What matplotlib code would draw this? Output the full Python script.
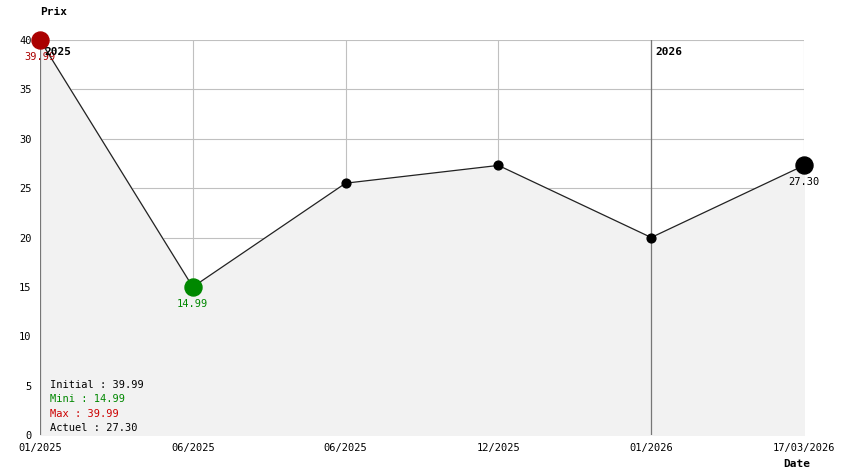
import matplotlib
matplotlib.use("Agg")
import matplotlib.pyplot as plt

labels = ["01/2025", "06/2025", "06/2025", "12/2025", "01/2026", "17/03/2026"]
prices = [39.99, 14.99, 25.5, 27.3, 20.0, 27.30]
year_marks = [(0, "2025"), (4, "2026")]

mono = "DejaVu Sans Mono"
fig = plt.figure(figsize=(8.44, 4.74), dpi=100)
ax = fig.add_axes([40 / 844, 39 / 474, 764 / 844, 395 / 474])
x = list(range(len(prices)))

ax.fill_between(x, prices, 0, color="#f2f2f2", zorder=1)
ax.plot(x, prices, color="#222222", lw=0.9, zorder=3)
ax.scatter(x[1:-1], prices[1:-1], s=40, color="black", zorder=4, clip_on=False)
ax.scatter([0], [prices[0]], s=150, color="#aa0000", zorder=5, clip_on=False)
ax.scatter([1], [prices[1]], s=150, color="#008800", zorder=5, clip_on=False)
ax.scatter([x[-1]], [prices[-1]], s=150, color="black", zorder=5, clip_on=False)

ax.text(0, prices[0] - 1.2, "39.99", color="#aa0000", fontsize=7.5, family=mono, ha="center", va="top", zorder=6)
ax.text(1, prices[1] - 1.2, "14.99", color="#008800", fontsize=7.5, family=mono, ha="center", va="top")
ax.text(x[-1], prices[-1] - 1.2, "27.30", color="black", fontsize=7.5, family=mono, ha="center", va="top")

for i, yr in year_marks:
    ax.axvline(i, color="#777777", lw=0.9, zorder=2)
    ax.text(i + 0.03, 39.3, yr, fontsize=8, family=mono, weight="bold", ha="left", va="top", zorder=6)

ax.set_xlim(0, len(prices) - 1)
ax.set_ylim(0, 40)
ax.set_xticks(x)
ax.set_xticklabels(labels, family=mono, fontsize=7.5)
ax.set_yticks(range(0, 41, 5))
ax.set_yticklabels([str(v) for v in range(0, 41, 5)], family=mono, fontsize=7.5)
ax.tick_params(length=0, pad=6)
ax.grid(True, color="#c0c0c0", lw=0.8, zorder=0)
ax.set_axisbelow(True)
for s in ax.spines.values():
    s.set_visible(False)

fig.text(40 / 844, 1 - 12 / 474, "Prix", family=mono, weight="bold", fontsize=8, va="center")
fig.text(783 / 844, 1 - 464 / 474, "Date", family=mono, weight="bold", fontsize=8, va="center")

stats = [("Initial : 39.99", "black"), ("Mini : 14.99", "#008800"),
         ("Max : 39.99", "#cc0000"), ("Actuel : 27.30", "black")]
for k, (t, c) in enumerate(stats):
    fig.text(50 / 844, 1 - (385 + k * 14.3) / 474, t, color=c, family=mono, fontsize=7.5, va="center")

fig.savefig("out.png", dpi=100)
